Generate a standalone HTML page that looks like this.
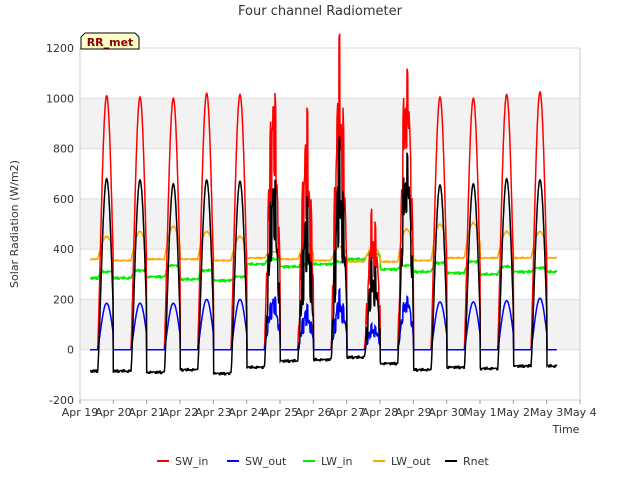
<!DOCTYPE html>
<html><head><meta charset="utf-8">
<style>
body{margin:0;background:#fff;font-family:"Liberation Sans","DejaVu Sans",sans-serif;}
svg text{font-family:"DejaVu Sans","Liberation Sans",sans-serif;}
</style></head>
<body>
<svg id="c" width="640" height="480" viewBox="0 0 640 480">
<rect x="0" y="0" width="640" height="480" fill="#fff"/>
<g id="bands"></g>
<g id="grid"></g>
<g id="series"></g>
<g id="axes"></g>
<text x="320" y="15" text-anchor="middle" font-size="13" fill="#333">Four channel Radiometer</text>
<text x="18" y="224" text-anchor="middle" font-size="11" fill="#333" transform="rotate(-90 18 224)">Solar Radiation (W/m2)</text>
<text x="566" y="433" text-anchor="middle" font-size="11" fill="#333">Time</text>
<g>
<path d="M81,49 L81,37 L85,33 L135,33 L139,37 L139,49 Z" fill="#ffffc8" stroke="#000" stroke-width="1"/>
<text x="110" y="46" text-anchor="middle" font-size="11" font-weight="bold" fill="#8b0000">RR_met</text>
</g>
<g id="legend"></g>
</svg>
<script>
const yTicks=[-200,0,200,400,600,800,1000,1200];
const xTickLabels=["Apr 19","Apr 20","Apr 21","Apr 22","Apr 23","Apr 24","Apr 25","Apr 26","Apr 27","Apr 28","Apr 29","Apr 30","May 1","May 2","May 3","May 4"];
const swInPeak=[1010,1005,1000,1020,1015,940,800,1045,490,1060,1005,1000,1015,1025];
const swOutPeak=[185,185,185,200,200,195,150,200,90,200,190,190,195,205];
const lwInNight=[285,285,290,280,275,340,330,340,360,320,310,305,300,310];
const lwInDay=[310,315,335,315,290,360,340,350,380,335,345,350,330,325];
const lwOutNight=[360,355,360,360,355,365,360,355,350,350,355,365,365,365];
const lwOutDay=[450,470,490,470,450,390,420,410,410,480,500,505,470,470];
const rnetPeak=[680,675,660,675,670,620,500,700,320,740,655,660,680,675];
const rnetNight=[-85,-85,-90,-80,-95,-70,-45,-40,-30,-55,-80,-70,-75,-65];
const cloudy=[0,0,0,0,0,0.35,0.5,0.5,0.5,0.3,0,0,0,0];
const jitter=[0.2,-0.5,0.4,-0.3,0.5,-0.6,0.1,0.3,-0.4,0.6,-0.2,0.0,-0.5,0.4,-0.1,0.2];

const X0=80,X1=580,Y0=48,Y1=400;
const xs=d=>X0+(d)*(X1-X0)/15;
const ys=v=>Y1-(v+200)*(Y1-Y0)/1400;
const NS="http://www.w3.org/2000/svg";
function mk(t,a,p){const e=document.createElementNS(NS,t);for(const k in a)e.setAttribute(k,a[k]);p.appendChild(e);return e;}
const bands=document.getElementById('bands'),grid=document.getElementById('grid'),axes=document.getElementById('axes'),ser=document.getElementById('series'),leg=document.getElementById('legend');
[[0,200],[400,600],[800,1000]].forEach(b=>{
 const r=mk('rect',{x:X0,y:ys(b[1]),width:X1-X0,height:ys(b[0])-ys(b[1]),fill:'#f2f2f2'},bands);
 
 
});
yTicks.forEach(v=>{
 const l=mk('line',{x1:X0,x2:X1,y1:ys(v),y2:ys(v),stroke:'#ddd','stroke-width':1},grid);
 
 
 const t=mk('text',{x:X0-6,y:ys(v)+4,'text-anchor':'end','font-size':11,fill:'#333'},axes);
 t.textContent=v;
 
 
});
mk('line',{x1:X0,x2:X0,y1:Y0,y2:Y1,stroke:'#ccc'},axes);
mk('line',{x1:X1,x2:X1,y1:Y0,y2:Y1,stroke:'#ccc'},axes);
mk('line',{x1:X0,x2:X1,y1:Y1,y2:Y1,stroke:'#ccc'},axes);
xTickLabels.forEach((s,i)=>{
 mk('line',{x1:xs(i),x2:xs(i),y1:Y1,y2:Y1+4,stroke:'#999'},axes);
 const t=mk('text',{x:xs(i),y:Y1+16,'text-anchor':'middle','font-size':11,fill:'#333'},axes);
 t.textContent=s;
 
 
});
const step=0.01,start=0.3,end=14.3;
function shape(f){const c=0.8,h=0.27;const dd=Math.abs(f-c);return dd<h?Math.cos(dd/h*Math.PI/2):0;}
function series(fn){const pts=[];let k=0;for(let t=start;t<=end;t+=step,k++){const d=Math.min(13,Math.max(0,Math.floor(t)));const s=shape(t-Math.floor(t));pts.push([xs(t),ys(fn(d,s,k))]);}return pts;}
function cf(d,s,k){if(!cloudy[d]||s<=0)return 1;return Math.max(0,1+cloudy[d]*jitter[Math.floor(k/3)%16]*1.1-cloudy[d]*0.25);}
const defs=[
 ['LW_in','#00ee00',(d,s,k)=>lwInNight[d]+(lwInDay[d]-lwInNight[d])*Math.min(1,s*1.5)+jitter[Math.floor(k/4)%16]*8],
 ['LW_out','orange',(d,s,k)=>lwOutNight[d]+(lwOutDay[d]-lwOutNight[d])*s+jitter[Math.floor(k/4+5)%16]*4],
 ['SW_in','red',(d,s,k)=>swInPeak[d]*Math.pow(s,1.2)*cf(d,s,k)],
 ['SW_out','blue',(d,s,k)=>swOutPeak[d]*Math.pow(s,1.2)*cf(d,s,k)],
 ['Rnet','black',(d,s,k)=>s>0?rnetNight[d]+(rnetPeak[d]-rnetNight[d])*Math.pow(s,1.3)*cf(d,s,k):rnetNight[d]+jitter[Math.floor(k/4)%16]*8]
];
defs.forEach(([n,col,fn])=>{
 const pts=series(fn);
 const p=mk('polyline',{points:pts.map(q=>q[0].toFixed(1)+','+q[1].toFixed(1)).join(' '),fill:'none',stroke:col,'stroke-width':1.5},ser);
 
 
});
const legItems=[['SW_in','red',157],['SW_out','blue',227],['LW_in','#00ee00',303],['LW_out','orange',373],['Rnet','black',445]];
legItems.forEach(([n,c,x])=>{
 const g=mk('g',{},leg);
 
 
 mk('line',{x1:x,x2:x+12,y1:461,y2:461,stroke:c,'stroke-width':2},g);
 const t=mk('text',{x:x+18,y:465,'font-size':11,fill:'#333'},g);t.textContent=n;
});
</script>
</body></html>
